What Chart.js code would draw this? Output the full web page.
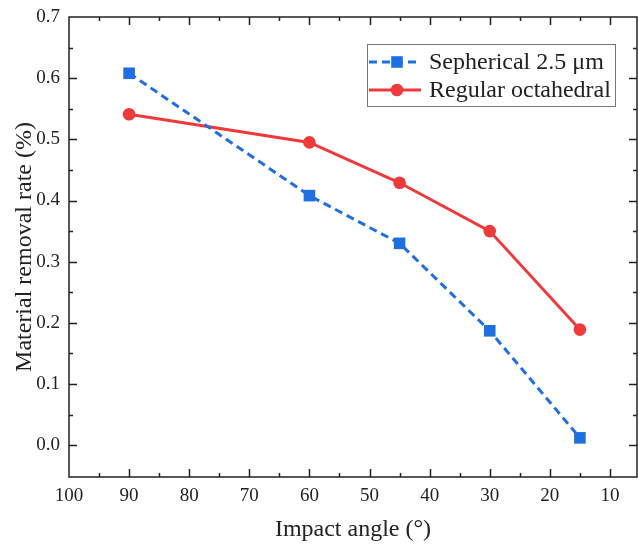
<!DOCTYPE html>
<html>
<head>
<meta charset="utf-8">
<script src="https://cdn.jsdelivr.net/npm/chart.js@4.4.0/dist/chart.umd.min.js"></script>
<style>
  html, body { margin: 0; padding: 0; background: #fff; }
  #wrap { width: 638px; height: 545px; }
</style>
</head>
<body>
<div id="wrap"><canvas id="chart" width="638" height="545"></canvas></div>
<script>
// Impact angle (deg) and material removal rate (%)
const angles = [90, 60, 45, 30, 15];
const spherical = [0.608, 0.408, 0.330, 0.187, 0.012];
const octahedral = [0.541, 0.495, 0.429, 0.350, 0.189];

const xTicks = [100, 90, 80, 70, 60, 50, 40, 30, 20, 10];
const yTicks = [0.0, 0.1, 0.2, 0.3, 0.4, 0.5, 0.6, 0.7];

const FONT = '"Liberation Serif", "Times New Roman", serif';
const INK = '#222';
const BLUE = '#1f6fe0';
const RED = '#ee3a3c';

// keep the plot box fixed: no extra room for edge labels
function fixBox(size) {
    return s => {
        if (s.isHorizontal()) s.height = size; else s.width = size;
        s.paddingLeft = s.paddingRight = s.paddingTop = s.paddingBottom = 0;
    };
}

/**
 * Inward ticks on all four sides plus the frame
 */
const frameTicks = {
    id: 'frameTicks',
    afterDatasetsDraw(chart) {
        const { ctx, chartArea: a, scales } = chart;
        const x = scales.x, y = scales.y;
        ctx.save();
        ctx.strokeStyle = INK;
        ctx.lineWidth = 1.5;
        ctx.strokeRect(a.left, a.top, a.right - a.left, a.bottom - a.top);

        for (let v = 95; v >= 10; v -= 5) {
            const px = Math.round(x.getPixelForValue(v)) + 0.5;
            const len = v % 10 === 0 ? 8 : 4;
            ctx.beginPath();
            ctx.moveTo(px, a.bottom); ctx.lineTo(px, a.bottom - len);
            ctx.moveTo(px, a.top); ctx.lineTo(px, a.top + len);
            ctx.stroke();
        }
        for (let i = 0; i <= 13; i++) {
            const v = i * 0.05;
            const py = Math.round(y.getPixelForValue(v)) + 0.5;
            const len = i % 2 === 0 ? 8 : 4;
            ctx.beginPath();
            ctx.moveTo(a.left, py); ctx.lineTo(a.left + len, py);
            ctx.moveTo(a.right, py); ctx.lineTo(a.right - len, py);
            ctx.stroke();
        }
        ctx.restore();
    }
};

/**
 * Boxed legend in the upper right of the plot
 */
const boxLegend = {
    id: 'boxLegend',
    afterDraw(chart) {
        const { ctx } = chart;
        const left = 367, top = 44, w = 248, h = 62;
        ctx.save();
        ctx.fillStyle = '#fff';
        ctx.fillRect(left, top, w, h);
        ctx.strokeStyle = '#777';
        ctx.lineWidth = 1;
        ctx.strokeRect(left + 0.5, top + 0.5, w, h);

        chart.data.datasets.forEach((ds, i) => {
            const cy = top + 18 + i * 28;
            ctx.strokeStyle = ds.borderColor;
            ctx.lineWidth = ds.borderWidth;
            ctx.setLineDash(ds.borderDash || []);
            ctx.beginPath();
            ctx.moveTo(left + 2, cy);
            ctx.lineTo(left + 54, cy);
            ctx.stroke();
            ctx.setLineDash([]);
            ctx.fillStyle = ds.backgroundColor;
            Chart.helpers.drawPoint(ctx, {
                pointStyle: ds.pointStyle,
                radius: ds.pointRadius,
                borderWidth: 0
            }, left + 30, cy);

            ctx.fillStyle = INK;
            ctx.font = '24px ' + FONT;
            ctx.textBaseline = 'middle';
            ctx.fillText(ds.label, left + 62, cy + 1);
        });
        ctx.restore();
    }
};

new Chart(document.getElementById('chart'), {
    type: 'line',
    data: {
        datasets: [
            {
                label: 'Sepherical 2.5 μm',
                data: angles.map((a, i) => ({ x: a, y: spherical[i] })),
                borderColor: BLUE,
                backgroundColor: BLUE,
                borderWidth: 3,
                borderDash: [8, 5],
                pointStyle: 'rect',
                pointRadius: 8.2,
                pointBorderWidth: 0
            },
            {
                label: 'Regular octahedral',
                data: angles.map((a, i) => ({ x: a, y: octahedral[i] })),
                borderColor: RED,
                backgroundColor: RED,
                borderWidth: 3,
                pointStyle: 'circle',
                pointRadius: 6.3,
                pointBorderWidth: 0
            }
        ]
    },
    options: {
        responsive: false,
        animation: false,
        layout: { autoPadding: false, padding: { top: 17, right: 1, left: 0, bottom: 0 } },
        plugins: {
            legend: { display: false },
            tooltip: { enabled: false }
        },
        scales: {
            x: {
                type: 'linear',
                reverse: true,
                min: 5.5,
                max: 100,
                grid: { display: false, drawTicks: false },
                border: { display: false },
                afterBuildTicks: s => { s.ticks = xTicks.map(v => ({ value: v })); },
                afterFit: fixBox(68),
                ticks: {
                    color: INK,
                    padding: 8,
                    maxRotation: 0,
                    font: { family: FONT, size: 19 }
                },
                title: {
                    display: true,
                    text: 'Impact angle (°)',
                    color: INK,
                    padding: { top: 0, bottom: 1 },
                    font: { family: FONT, size: 24 }
                }
            },
            y: {
                min: -0.052,
                max: 0.7,
                grid: { display: false, drawTicks: false },
                border: { display: false },
                afterBuildTicks: s => { s.ticks = yTicks.map(v => ({ value: v })); },
                afterFit: fixBox(69),
                ticks: {
                    color: INK,
                    padding: 9,
                    font: { family: FONT, size: 19 },
                    callback: v => v.toFixed(1)
                },
                title: {
                    display: true,
                    text: 'Material removal rate (%)',
                    color: INK,
                    padding: { top: 10, bottom: 0 },
                    font: { family: FONT, size: 24 }
                }
            }
        }
    },
    plugins: [frameTicks, boxLegend]
});
</script>
</body>
</html>
